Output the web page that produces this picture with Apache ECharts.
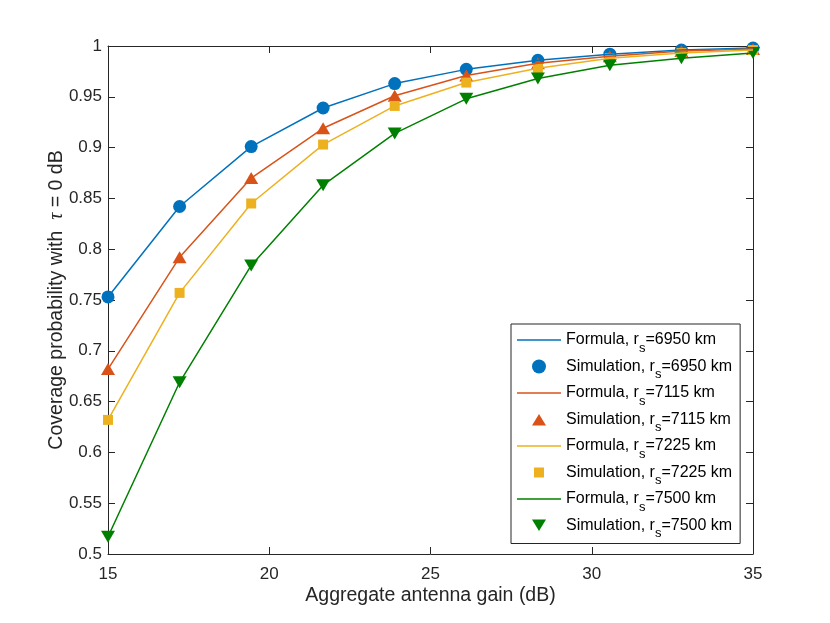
<!DOCTYPE html>
<html>
<head>
<meta charset="utf-8">
<script src="https://cdn.jsdelivr.net/npm/echarts@6/dist/echarts.min.js"></script>
<style>html,body{margin:0;padding:0;background:#fff}#c{width:830px;height:623px}</style>
</head>
<body>
<div id="c"></div>
<script>
// Aggregate antenna gain (dB)
var gain = [15, 17.22, 19.44, 21.67, 23.89, 26.11, 28.33, 30.56, 32.78, 35];
// Coverage probability per satellite radius
var cov6950 = [0.753, 0.842, 0.901, 0.939, 0.963, 0.977, 0.986, 0.992, 0.996, 0.998];
var cov7115 = [0.682, 0.792, 0.870, 0.919, 0.951, 0.971, 0.983, 0.990, 0.995, 0.997];
var cov7225 = [0.632, 0.757, 0.845, 0.903, 0.941, 0.964, 0.978, 0.988, 0.993, 0.996];
var cov7500 = [0.517, 0.669, 0.784, 0.863, 0.914, 0.948, 0.968, 0.981, 0.988, 0.993];
var radii = ['6950', '7115', '7225', '7500'];
var xTicks = [15, 20, 25, 30, 35];
var yTicks = [0.5, 0.55, 0.6, 0.65, 0.7, 0.75, 0.8, 0.85, 0.9, 0.95, 1];

var colors = ['#0072BD', '#D95319', '#EDB120', '#008000'];
var allCov = [cov6950, cov7115, cov7225, cov7500];
var symbols = [
  {s: 'circle', size: 13, rot: 0, icon: 'circle'},
  {s: 'triangle', size: [14, 12], rot: 0, icon: 'path://M0,0 M15,15 M0,14 L7.5,1.5 L15,14 Z'},
  {s: 'rect', size: 10, rot: 0, icon: 'path://M0,0 M14,14 M2,2 L12,2 L12,12 L2,12 Z'},
  {s: 'triangle', size: [14, 12], rot: 180, icon: 'path://M0,0 M15,15 M0,1 L15,1 L7.5,13.5 Z'}
];
var lineIcon = 'path://M0,0 L44,0 L44,1.5 L0,1.5 Z';

function pairs(arr) { return gain.map(function (g, i) { return [g, arr[i]]; }); }

var series = [], legendData = [];
radii.forEach(function (r, k) {
  var fName = 'Formula, r_s=' + r + ' km';
  var sName = 'Simulation, r_s=' + r + ' km';
  series.push({
    name: fName, type: 'line', data: pairs(allCov[k]), symbol: 'none', showSymbol: false,
    lineStyle: {color: colors[k], width: 1.5}, itemStyle: {color: colors[k]},
    animation: false, silent: true
  });
  series.push({
    name: sName, type: 'scatter', data: pairs(allCov[k]), symbol: symbols[k].s,
    symbolSize: symbols[k].size, symbolRotate: symbols[k].rot,
    itemStyle: {color: colors[k], opacity: 1}, animation: false, silent: true
  });
  legendData.push({name: fName, icon: lineIcon});
  legendData.push({name: sName, icon: symbols[k].icon});
});

var axisCol = '#262626';
var font = 'Liberation Sans, Arial, Helvetica, sans-serif';
var chart = echarts.init(document.getElementById('c'), null, {renderer: 'canvas'});
chart.setOption({
  backgroundColor: '#fff',
  animation: false,
  grid: {left: 108, right: 77, top: 46, bottom: 69, containLabel: false},
  xAxis: [{
    type: 'value', min: xTicks[0], max: xTicks[xTicks.length - 1], interval: 5,
    name: 'Aggregate antenna gain (dB)', nameLocation: 'middle', nameGap: 32, nameMoveOverlap: false,
    nameTextStyle: {color: axisCol, fontSize: 19.5, fontFamily: font},
    axisLine: {lineStyle: {color: axisCol, width: 1}},
    axisTick: {inside: true, length: 7, lineStyle: {color: axisCol}},
    axisLabel: {color: axisCol, fontSize: 17, fontFamily: font, margin: 12},
    splitLine: {show: false}
  }, {
    type: 'value', position: 'top', min: xTicks[0], max: xTicks[xTicks.length - 1], interval: 5,
    axisLine: {lineStyle: {color: axisCol, width: 1}},
    axisTick: {inside: true, length: 7, lineStyle: {color: axisCol}},
    axisLabel: {show: false}, splitLine: {show: false}
  }],
  yAxis: [{
    type: 'value', min: yTicks[0], max: yTicks[yTicks.length - 1], interval: 0.05,
    name: '{a|Coverage probability with  }{t|τ}{a| = 0 dB}', nameLocation: 'middle', nameGap: 41, nameMoveOverlap: false,
    nameTextStyle: {color: axisCol, fontSize: 19.5, fontFamily: font,
      rich: {a: {fontSize: 19.5, fontFamily: font, color: axisCol},
             t: {fontSize: 20, fontFamily: 'Liberation Serif, Times New Roman, serif', fontStyle: 'italic', color: axisCol}}},
    axisLine: {lineStyle: {color: axisCol, width: 1}},
    axisTick: {inside: true, length: 7, lineStyle: {color: axisCol}},
    axisLabel: {color: axisCol, fontSize: 17, fontFamily: font, margin: 6},
    splitLine: {show: false}
  }, {
    type: 'value', position: 'right', min: yTicks[0], max: yTicks[yTicks.length - 1], interval: 0.05,
    axisLine: {lineStyle: {color: axisCol, width: 1}},
    axisTick: {inside: true, length: 7, lineStyle: {color: axisCol}},
    axisLabel: {show: false}, splitLine: {show: false}
  }],
  legend: {
    orient: 'vertical', left: 511, top: 324,
    padding: [1.5, 8, 3.5, 6],
    itemWidth: 44, itemHeight: 14, itemGap: -2.5,
    backgroundColor: '#fff', borderColor: axisCol, borderWidth: 1,
    selectedMode: false,
    data: legendData,
    formatter: function (name) {
      var p = name.split('r_s');
      return '{t|' + p[0] + 'r}{s|s}{t|' + p[1] + '}';
    },
    textStyle: {
      color: '#000', fontSize: 16, fontFamily: font,
      rich: {
        t: {fontSize: 16, fontFamily: font, color: '#000', lineHeight: 19},
        s: {fontSize: 13, fontFamily: font, color: '#000', lineHeight: 2, padding: [16, 0, 0, 0]}
      }
    }
  },
  series: series
});
</script>
</body>
</html>
